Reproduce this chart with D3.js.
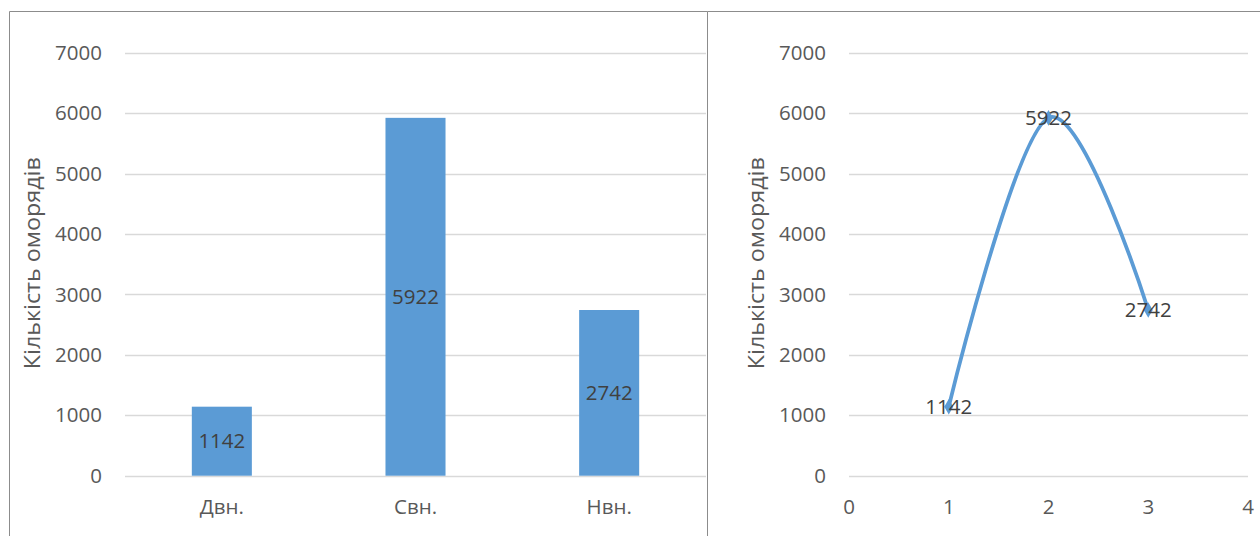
<!DOCTYPE html>
<html>
<head>
<meta charset="utf-8">
<script src="https://cdn.jsdelivr.net/npm/d3@7"></script>
<style>
  html, body { margin: 0; padding: 0; background: #fff; }
  svg { display: block; }
  text { font-family: "Open Sans", "Liberation Sans", sans-serif; }
</style>
</head>
<body>
<svg id="chart" width="1260" height="536"></svg>
<script>
// Кількість оморядів за категоріями
const categories = ["Двн.", "Свн.", "Нвн."];
const counts = [1142, 5922, 2742];
const positions = [1, 2, 3];
const yTicks = [0, 1000, 2000, 3000, 4000, 5000, 6000, 7000];
const xTicks = [0, 1, 2, 3, 4];
const axisTitle = "Кількість оморядів";

const svg = d3.select("#chart");
const gridColor = "#d9d9d9";
const labelColor = "#595959";
const valueColor = "#404040";
const barColor = "#5b9bd5";
const fontSize = 20.5;

// Chart frames
svg.append("path")
  .attr("d", "M9.5,540 V11.5 H707.5 V540")
  .attr("fill", "none").attr("stroke", "#8c8c8c").attr("stroke-width", 1);
svg.append("path")
  .attr("d", "M707.5,11.5 H1265")
  .attr("fill", "none").attr("stroke", "#8c8c8c").attr("stroke-width", 1);

const y = d3.scaleLinear().domain([0, 7000]).range([475.7, 52.7]);

function drawYAxis(g, x0, x1, labelX, titleX) {
  g.selectAll("line.grid").data(yTicks).join("line")
    .attr("x1", x0).attr("x2", x1)
    .attr("y1", d => Math.round(y(d)) + 0.5).attr("y2", d => Math.round(y(d)) + 0.5)
    .attr("stroke", gridColor).attr("stroke-width", 1.3);
  g.selectAll("text.tick").data(yTicks).join("text")
    .attr("x", labelX).attr("y", d => y(d))
    .attr("dy", "0.35em").attr("text-anchor", "end")
    .attr("font-size", fontSize).attr("fill", labelColor)
    .text(d => d);
  const mid = (y(0) + y(7000)) / 2 - 1;
  g.append("text")
    .attr("transform", `translate(${titleX},${mid}) rotate(-90)`)
    .attr("text-anchor", "middle").attr("dy", "0.35em")
    .attr("font-size", 21.5).attr("fill", labelColor)
    .attr("textLength", 212).attr("lengthAdjust", "spacingAndGlyphs")
    .text(axisTitle);
}

// Left: bar chart
const left = svg.append("g");
const xBand = d3.scaleBand().domain(categories).range([125, 706]).paddingInner(0.69).paddingOuter(0.345);
drawYAxis(left, 125, 706, 102, 32);

left.selectAll("rect.bar").data(categories).join("rect")
  .attr("x", d => xBand(d))
  .attr("width", xBand.bandwidth())
  .attr("y", (d, i) => y(counts[i]))
  .attr("height", (d, i) => y(0) - y(counts[i]))
  .attr("fill", barColor);

left.selectAll("text.val").data(categories).join("text")
  .attr("x", d => xBand(d) + xBand.bandwidth() / 2)
  .attr("y", (d, i) => (y(counts[i]) + y(0)) / 2)
  .attr("dy", "0.35em").attr("text-anchor", "middle")
  .attr("font-size", fontSize).attr("fill", valueColor)
  .text((d, i) => counts[i]);

left.selectAll("text.cat").data(categories).join("text")
  .attr("x", d => xBand(d) + xBand.bandwidth() / 2)
  .attr("y", 507)
  .attr("dy", "0.35em").attr("text-anchor", "middle")
  .attr("font-size", fontSize).attr("fill", labelColor)
  .text(d => d);

// Right: smoothed line chart
const right = svg.append("g");
const x = d3.scaleLinear().domain([0, 4]).range([849, 1248]);
drawYAxis(right, 849, 1248, 826, 756);

right.selectAll("text.xt").data(xTicks).join("text")
  .attr("x", d => x(d)).attr("y", 507)
  .attr("dy", "0.35em").attr("text-anchor", "middle")
  .attr("font-size", fontSize).attr("fill", labelColor)
  .text(d => d);

const pts = positions.map((p, i) => [p, counts[i]]);
const line = d3.line().x(d => x(d[0])).y(d => y(d[1])).curve(d3.curveCardinal.tension(0));
right.append("path")
  .attr("d", line(pts))
  .attr("fill", "none").attr("stroke", barColor)
  .attr("stroke-width", 3.75).attr("stroke-linecap", "round");

right.selectAll("path.marker").data(pts).join("path")
  .attr("transform", d => `translate(${x(d[0])},${y(d[1])})`)
  .attr("d", d3.symbol(d3.symbolDiamond, 70)())
  .attr("fill", barColor);

right.selectAll("text.val").data(pts).join("text")
  .attr("x", d => x(d[0])).attr("y", d => y(d[1]))
  .attr("dy", "0.35em").attr("text-anchor", "middle")
  .attr("font-size", fontSize).attr("fill", valueColor)
  .text(d => d[1]);
</script>
</body>
</html>
